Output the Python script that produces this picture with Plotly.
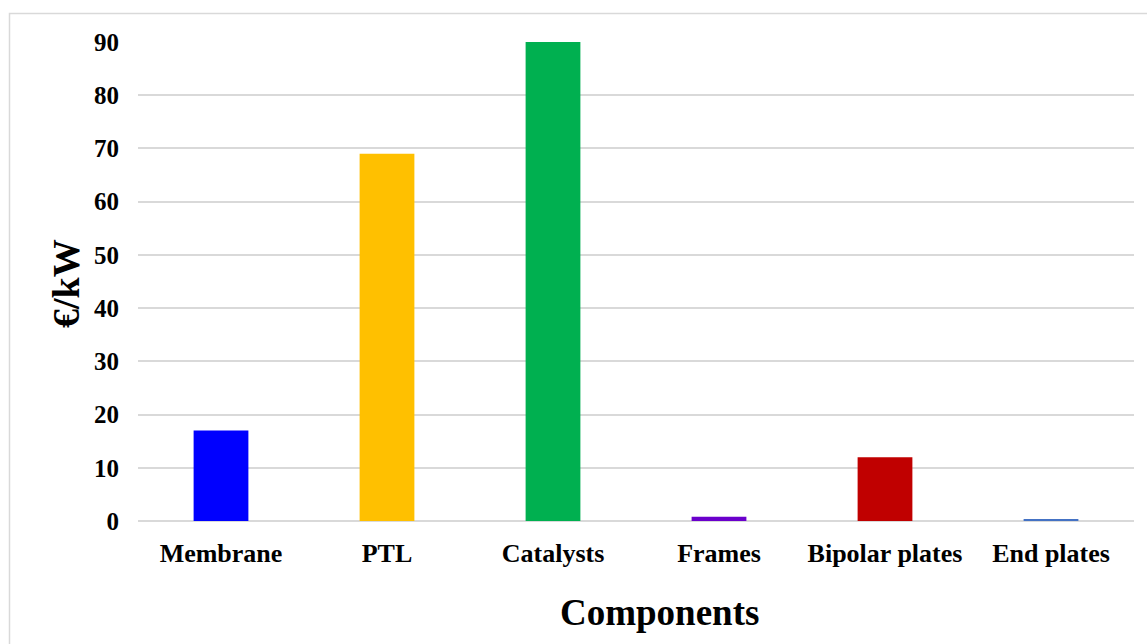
import plotly.graph_objects as go

# Cost breakdown of stack components (€/kW)
components = ["Membrane", "PTL", "Catalysts", "Frames", "Bipolar plates", "End plates"]
cost_eur_per_kw = [17.0, 69.0, 90.0, 0.8, 12.0, 0.3]
bar_colors = ["#0000FF", "#FFC000", "#00B050", "#6A00CC", "#C00000", "#4472C4"]
y_ticks = [0, 10, 20, 30, 40, 50, 60, 70, 80, 90]

W, H = 1147, 644
ML, MR, MT, MB = 138, 13, 42, 123
plot_w = W - ML - MR
plot_h = H - MT - MB

font_family = "Liberation Serif, Times New Roman, serif"

fig = go.Figure(
    go.Bar(
        x=components,
        y=cost_eur_per_kw,
        marker=dict(color=bar_colors, line=dict(width=0)),
        width=0.33,
        hoverinfo="x+y",
    )
)


def px_to_paper_x(px):
    return (px - ML) / plot_w


def px_to_paper_y(py):
    return (H - MB - py) / plot_h


fig.update_layout(
    width=W,
    height=H,
    margin=dict(l=ML, r=MR, t=MT, b=MB),
    paper_bgcolor="white",
    plot_bgcolor="white",
    showlegend=False,
    font=dict(family=font_family, color="black"),
    xaxis=dict(
        tickfont=dict(size=26, family=font_family, color="black", weight="bold"),
        ticklabelstandoff=14,
        showgrid=False,
        showline=False,
        zeroline=False,
    ),
    yaxis=dict(
        range=[0, 90],
        tickvals=y_ticks,
        tickfont=dict(size=25, family=font_family, color="black", weight="bold"),
        ticklabelstandoff=18,
        showgrid=True,
        gridcolor="#d9d9d9",
        gridwidth=1.5,
        zeroline=True,
        zerolinecolor="#d9d9d9",
        zerolinewidth=1.5,
        showline=False,
    ),
    annotations=[
        dict(
            text="<b>Components</b>",
            xref="paper",
            yref="paper",
            x=px_to_paper_x(659),
            y=px_to_paper_y(612),
            xanchor="center",
            yanchor="middle",
            showarrow=False,
            font=dict(size=37, family=font_family, color="black"),
        ),
        dict(
            text="<b>€/kW</b>",
            xref="paper",
            yref="paper",
            x=px_to_paper_x(66),
            y=px_to_paper_y(284),
            xanchor="center",
            yanchor="middle",
            textangle=-90,
            showarrow=False,
            font=dict(size=38, family=font_family, color="black"),
        ),
    ],
    shapes=[
        dict(
            type="rect",
            xref="paper",
            yref="paper",
            x0=px_to_paper_x(9.5),
            x1=px_to_paper_x(1170),
            y0=px_to_paper_y(680),
            y1=px_to_paper_y(13.5),
            line=dict(color="#d9d9d9", width=1.5),
            fillcolor="rgba(0,0,0,0)",
            layer="below",
        )
    ],
)

fig.write_html("out.html")
